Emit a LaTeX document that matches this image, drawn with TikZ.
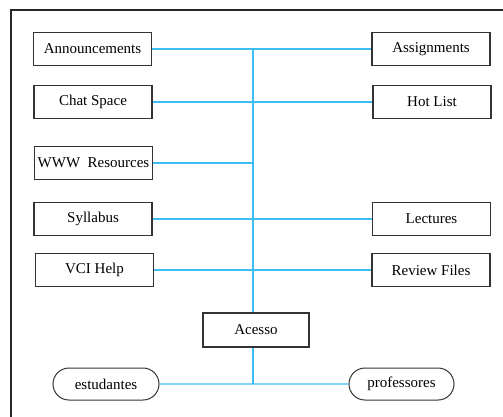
\documentclass[tikz,border=0pt]{standalone}
\usepackage{fontspec}
\setmainfont{Liberation Serif}
\usetikzlibrary{shapes.misc,backgrounds}

\definecolor{linkblue}{RGB}{60,190,245}
\tikzstyle{menubox}=[draw=black!80,line width=1.1pt,rectangle,fill=white,minimum width=118pt,minimum height=33pt,inner sep=0pt,font=\rmfamily\fontsize{15}{18}\selectfont]
\tikzstyle{userbox}=[draw=black!80,line width=1pt,rounded rectangle,fill=white,minimum width=106pt,minimum height=32pt,inner sep=0pt,font=\rmfamily\fontsize{15}{18}\selectfont]
\tikzstyle{link} = [draw=linkblue,line width=1.3pt,-]

\begin{document}
\begin{tikzpicture}[x=1pt, y=-1pt]
    \clip (0,0) rectangle (503,416);
    % the page frame, it runs off the right and bottom
    \draw[line width=1.3pt,black!85] (11,10) rectangle (530,440);
    % First we draw the menu boxes
    \foreach \pos/\name/\text in {{(92.5,49)/ann/Announcements}, {(93,102)/chat/Chat Space},
        {(93.5,163)/www/WWW\ \ Resources}, {(93,219)/syl/Syllabus}, {(94.5,270)/vci/VCI Help},
        {(431,49)/asg/Assignments}, {(432,102)/hot/Hot List},
        {(431.5,219)/lec/Lectures}, {(431,270)/rev/Review Files}}
        \node[menubox] (\name) at \pos {\text};
    \node[menubox,minimum width=106pt,minimum height=34pt] (acesso) at (256,330) {Acesso};
    % the users
    \node[userbox] (est) at (106,384) {estudantes};
    \node[userbox,minimum width=105pt] (prof) at (401.5,384) {professores};
    \coordinate (top) at (253,49);
    \coordinate (bot) at (253,384);
    % Connect boxes with the blue lines
    \begin{scope}[on background layer]
    \path[link] (top) -- (bot);
    \foreach \source/ \dest in {ann/asg,chat/hot,syl/lec,vci/rev,est/prof}
        \path[link] (\source) -- (\dest);
    \path[link] (www) -- (www -| top);
    \end{scope}
\end{tikzpicture}
\end{document}
